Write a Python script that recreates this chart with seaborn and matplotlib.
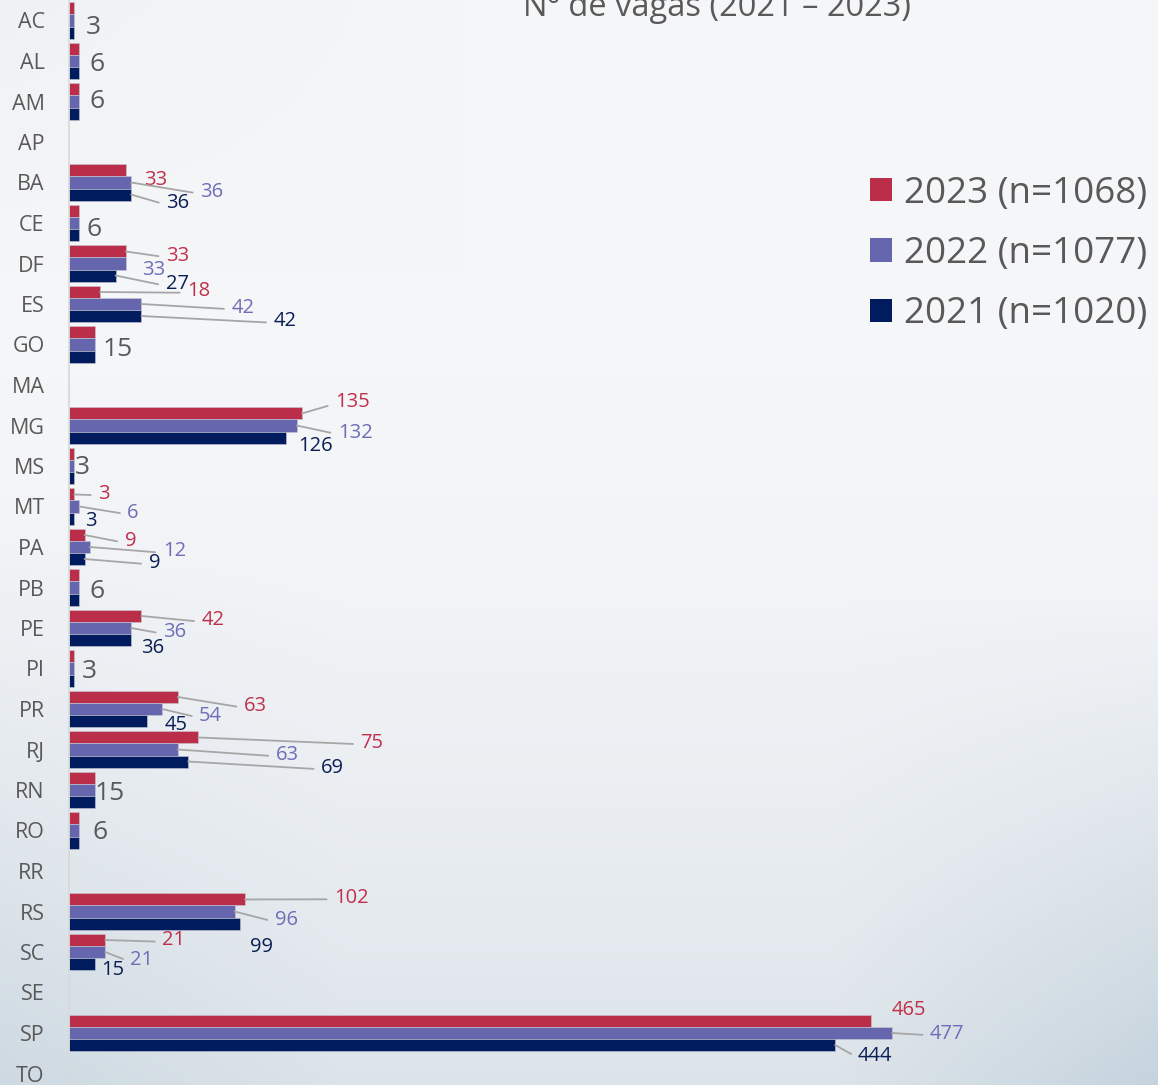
import numpy as np
import pandas as pd
import matplotlib
matplotlib.use("Agg")
import matplotlib.pyplot as plt
import seaborn as sns

# Nº de vagas por UF
states = ["AC", "AL", "AM", "AP", "BA", "CE", "DF", "ES", "GO", "MA", "MG", "MS", "MT", "PA",
          "PB", "PE", "PI", "PR", "RJ", "RN", "RO", "RR", "RS", "SC", "SE", "SP", "TO"]
v2023 = [3, 6, 6, 0, 33, 6, 33, 18, 15, 0, 135, 3, 3, 9, 6, 42, 3, 63, 75, 15, 6, 0, 102, 21, 0, 465, 0]
v2022 = [3, 6, 6, 0, 36, 6, 33, 42, 15, 0, 132, 3, 6, 12, 6, 36, 3, 54, 63, 15, 6, 0, 96, 21, 0, 477, 0]
v2021 = [3, 6, 6, 0, 36, 6, 27, 42, 15, 0, 126, 3, 3, 9, 6, 36, 3, 45, 69, 15, 6, 0, 99, 15, 0, 444, 0]
years = ["2023", "2022", "2021"]
title = "Nº de vagas (2021 – 2023)"

bar_colors = {"2023": "#BA2E4A", "2022": "#6666AE", "2021": "#001C5E"}
text_colors = {"2023": "#C0304A", "2022": "#6E6EB8", "2021": "#0A1E55"}
gray = "#595959"
leader = "#A6A6A6"

# label placement (pixels from bar end: dx, dy up, leader line?)
label_pos = {
    ("BA", "2023"): (18, -7, False), ("BA", "2022"): (69, -7.5, True), ("BA", "2021"): (35, -6.5, True),
    ("DF", "2023"): (40, -2, True), ("DF", "2022"): (16, -4, False), ("DF", "2021"): (50, -6.5, True),
    ("ES", "2023"): (87, 3, True), ("ES", "2022"): (90, -1.5, True), ("ES", "2021"): (132, -3, True),
    ("MG", "2023"): (33, 13.5, True), ("MG", "2022"): (41, -5, True), ("MG", "2021"): (12, -6.5, False),
    ("MT", "2023"): (24, 3, True), ("MT", "2022"): (48, -4, True), ("MT", "2021"): (11, -0.5, False),
    ("PA", "2023"): (40, -4, True), ("PA", "2022"): (73, -2, True), ("PA", "2021"): (64, -1.5, True),
    ("PE", "2023"): (60, -2, True), ("PE", "2022"): (32, -2, True), ("PE", "2021"): (10, -5.5, False),
    ("PR", "2023"): (66, -7, True), ("PR", "2022"): (37, -5, True), ("PR", "2021"): (18, -1.5, False),
    ("RJ", "2023"): (162, -3, True), ("RJ", "2022"): (98, -3, True), ("RJ", "2021"): (133, -4, True),
    ("RS", "2023"): (89, 4, True), ("RS", "2022"): (40, -6.5, True), ("RS", "2021"): (10, -21, False),
    ("SC", "2023"): (57, 2, True), ("SC", "2022"): (25, -6, True), ("SC", "2021"): (6, -3.5, False),
    ("SP", "2023"): (20, 13, False), ("SP", "2022"): (38, 1.5, True), ("SP", "2021"): (23, -9, True),
}
single_pos = {"AC": (12, -4.5), "AL": (10, -1), "AM": (10, 2.5), "CE": (7, -4), "GO": (8, -2.5),
              "MS": (1, 1), "PB": (10, -1.5), "PI": (8, -0.5), "RN": (0, -1), "RO": (13, 0.5)}

df = pd.DataFrame({"UF": states, "2023": v2023, "2022": v2022, "2021": v2021})
long = df.melt(id_vars="UF", var_name="Ano", value_name="Vagas")

sns.set_style("white")
plt.rcParams["font.family"] = ["Open Sans", "DejaVu Sans"]

W, H = 1158, 1085
fig = plt.figure(figsize=(W / 100, H / 100), dpi=100)

# background
bg = fig.add_axes([0, 0, 1, 1], zorder=-2)
yy, xx = np.mgrid[0:1:300j, 0:1:320j]
w = 0.5 * np.clip((yy - 0.35) / 0.65, 0, 1) ** 1.6
w += 0.45 * np.clip((xx - 0.72) / 0.28, 0, 1) * np.clip((yy - 0.55) / 0.45, 0, 1)
w += 0.3 * np.clip((0.3 - xx) / 0.3, 0, 1) * np.clip((yy - 0.45) / 0.55, 0, 1)
w += 0.12 * np.clip((0.25 - yy) / 0.25, 0, 1) * np.clip((0.4 - xx) / 0.4, 0, 1)
w = np.clip(w, 0, 1)[..., None]
base = np.array([245, 246, 248]) / 255
dark = np.array([196, 210, 220]) / 255
bg.imshow(base * (1 - w) + dark * w, aspect="auto", extent=(0, 1, 0, 1), origin="upper")
bg.set_axis_off()

ax = fig.add_axes([69 / W, 0, (W - 69) / W, 1])
ax.set_facecolor("none")
sns.barplot(data=long, y="UF", x="Vagas", hue="Ano", hue_order=years, order=states,
            palette=bar_colors, orient="h", width=0.89, saturation=1,
            edgecolor="#C8C8D4", linewidth=0.4, ax=ax)

px_per_unit = 823 / 477
ax.set_xlim(0, (W - 69) / px_per_unit)
ax.set_ylim((H - 20.5) / 40.5, -20.5 / 40.5)
ax.set_xlabel("")
ax.set_ylabel("")
ax.set_xticks([])
for s in ["top", "right", "bottom"]:
    ax.spines[s].set_visible(False)
ax.spines["left"].set_color("#D9D9D9")
ax.spines["left"].set_linewidth(1.2)
ax.tick_params(axis="y", length=0, pad=17.5, labelsize=15.5, labelcolor=gray)

# data labels
fs_small, fs_big = 14.5, 19
half_small = 0.714 * fs_small * 100 / 72 / 2
half_big = 0.714 * fs_big * 100 / 72 / 2
for k, yr in enumerate(years):
    bars = ax.containers[k]
    for st, bar in zip(states, bars):
        val = bar.get_width()
        yc = bar.get_y() + bar.get_height() / 2
        if (st, yr) in label_pos:
            dx, dy, has_line = label_pos[(st, yr)]
            arrow = dict(arrowstyle="-", color=leader, lw=1.3, shrinkA=3, shrinkB=0,
                         relpos=(0, 0.42)) if has_line else None
            ax.annotate(f"{int(val)}", xy=(val, yc), xytext=(dx, dy - half_small),
                        textcoords="offset pixels", ha="left", va="baseline",
                        fontsize=fs_small, color=text_colors[yr], arrowprops=arrow)
        elif yr == "2022" and st in single_pos:
            dx, dy = single_pos[st]
            ycat = states.index(st)
            ax.annotate(f"{int(val)}", xy=(val, ycat), xytext=(dx, dy - half_big),
                        textcoords="offset pixels", ha="left", va="baseline",
                        fontsize=fs_big, color=gray)

# legend
handles, _ = ax.get_legend_handles_labels()
ax.get_legend().remove()
totals = [sum(v2023), sum(v2022), sum(v2021)]
labels = [f"{y} (n={t})" for y, t in zip(years, totals)]
for h in handles:
    h.set_linewidth(0)
fig.legend(handles, labels, loc="center left", bbox_to_anchor=(870 / W, 1 - 254 / H),
           frameon=False, fontsize=26.5, labelcolor=gray, handlelength=0.6, handleheight=0.6,
           handletextpad=0.33, labelspacing=0.66, borderpad=0, borderaxespad=0)

fig.text(717 / W, 1 - 16 / H, title, ha="center", va="baseline", fontsize=23.5, color=gray)

fig.savefig("out.png", dpi=100)
